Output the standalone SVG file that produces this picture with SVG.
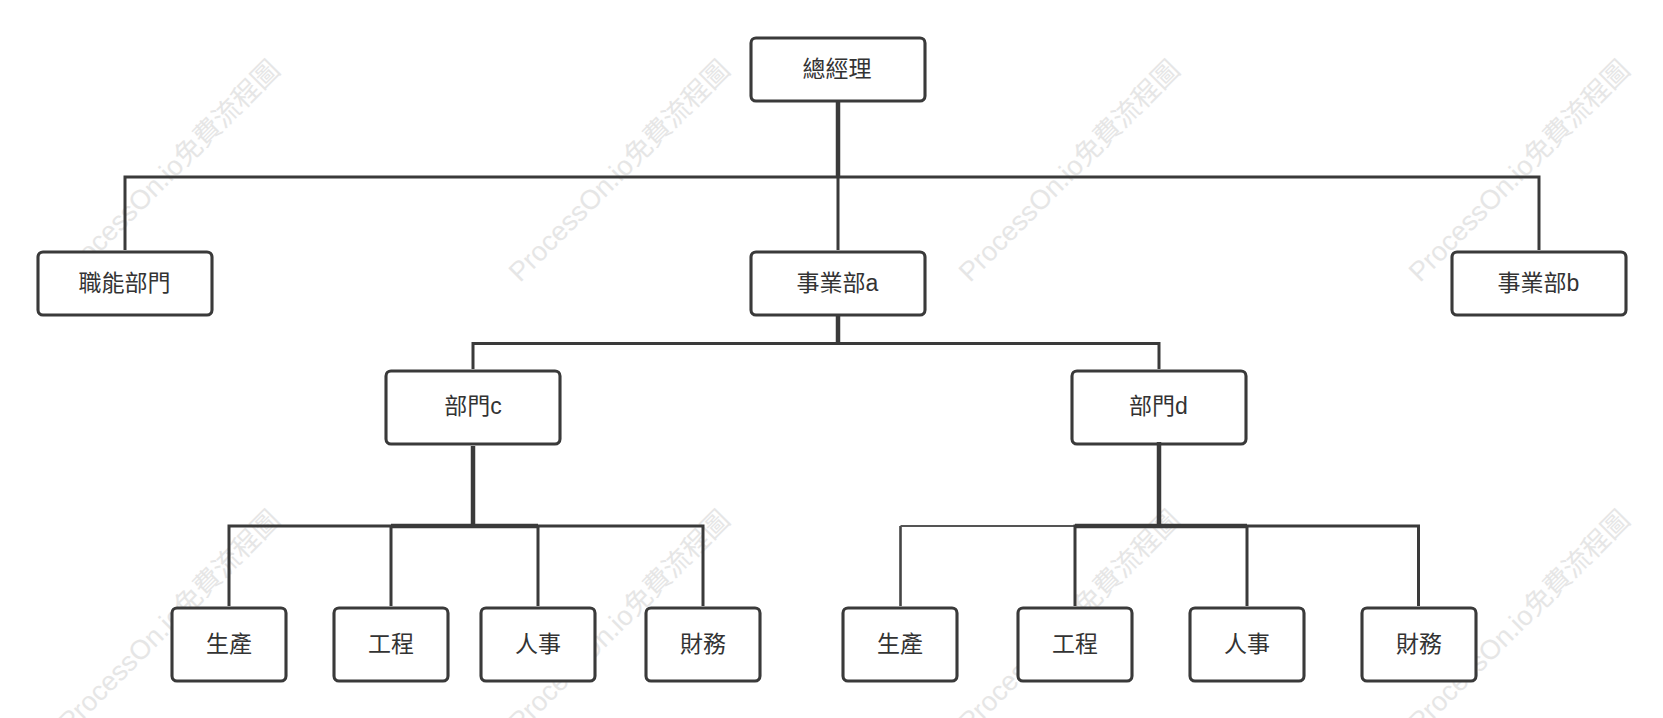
<svg xmlns="http://www.w3.org/2000/svg" width="1663" height="718" viewBox="0 0 1663 718">
<style>
.wm{font-family:"Liberation Sans","Noto Sans CJK TC",sans-serif;font-size:27.2px;fill:#e6e6e6}
.box{fill:#fff;stroke:#3a3a3a;stroke-width:3.1}
.lbl{font-family:"Liberation Sans","Noto Sans CJK TC",sans-serif;font-size:23px;fill:#333;text-anchor:middle}
.c{fill:none;stroke:#3a3a3a;stroke-width:3}
.t{stroke-width:4.5}
.n{stroke-width:2;stroke:#555}
.v{stroke-width:2.6;stroke:#444}
</style>
<rect width="1663" height="718" fill="#fff"/>
<g id="watermarks">
<text class="wm" transform="translate(70 283) rotate(-45)">ProcessOn.io免費流程圖</text>
<text class="wm" transform="translate(520 283) rotate(-45)">ProcessOn.io免費流程圖</text>
<text class="wm" transform="translate(970 283) rotate(-45)">ProcessOn.io免費流程圖</text>
<text class="wm" transform="translate(1420 283) rotate(-45)">ProcessOn.io免費流程圖</text>
<text class="wm" transform="translate(70 733) rotate(-45)">ProcessOn.io免費流程圖</text>
<text class="wm" transform="translate(520 733) rotate(-45)">ProcessOn.io免費流程圖</text>
<text class="wm" transform="translate(970 733) rotate(-45)">ProcessOn.io免費流程圖</text>
<text class="wm" transform="translate(1420 733) rotate(-45)">ProcessOn.io免費流程圖</text>
</g>
<g id="n-gm"><rect class="box" x="751" y="38" width="174" height="63" rx="5"/><text class="lbl" x="837" y="77">總經理</text></g>
<g id="n-func"><rect class="box" x="38" y="252" width="174" height="63" rx="5"/><text class="lbl" x="124.500" y="290.500">職能部門</text></g>
<g id="n-a"><rect class="box" x="751" y="252" width="174" height="63" rx="5"/><text class="lbl" x="837.500" y="290.500">事業部a</text></g>
<g id="n-b"><rect class="box" x="1452" y="252" width="174" height="63" rx="5"/><text class="lbl" x="1538.500" y="290.500">事業部b</text></g>
<g id="n-c"><rect class="box" x="386" y="371" width="174" height="73" rx="5"/><text class="lbl" x="473" y="414">部門c</text></g>
<g id="n-d"><rect class="box" x="1072" y="371" width="174" height="73" rx="5"/><text class="lbl" x="1158.500" y="414">部門d</text></g>
<g id="n-c1"><rect class="box" x="172" y="608" width="114" height="73" rx="5"/><text class="lbl" x="229" y="651.500">生產</text></g>
<g id="n-c2"><rect class="box" x="334" y="608" width="114" height="73" rx="5"/><text class="lbl" x="391" y="651.500">工程</text></g>
<g id="n-c3"><rect class="box" x="481" y="608" width="114" height="73" rx="5"/><text class="lbl" x="538" y="651.500">人事</text></g>
<g id="n-c4"><rect class="box" x="646" y="608" width="114" height="73" rx="5"/><text class="lbl" x="703" y="651.500">財務</text></g>
<g id="n-d1"><rect class="box" x="843" y="608" width="114" height="73" rx="5"/><text class="lbl" x="900" y="651.500">生產</text></g>
<g id="n-d2"><rect class="box" x="1018" y="608" width="114" height="73" rx="5"/><text class="lbl" x="1075" y="651.500">工程</text></g>
<g id="n-d3"><rect class="box" x="1190" y="608" width="114" height="73" rx="5"/><text class="lbl" x="1247" y="651.500">人事</text></g>
<g id="n-d4"><rect class="box" x="1362" y="608" width="114" height="73" rx="5"/><text class="lbl" x="1419" y="651.500">財務</text></g>
<g id="connectors">
<path class="c t" d="M838 102V177"/>
<path class="c" d="M125 250V177H1539V250M838 177V250"/>
<path class="c" d="M473 369V343.500H1159V369M838 316V343.500"/>
<path class="c t" d="M838 316V343"/>
<path class="c t" d="M473 446V526"/>
<path class="c" d="M229 606V526H703V606M391 526V606M538 526V606"/>
<path class="c t" d="M391 526H538"/>
<path class="c t" d="M1159 442V526"/>
<path class="c v" d="M900.500 606V526"/>
<path class="c n" d="M900.500 526H1075"/>
<path class="c" d="M1075 606V526H1418.500V606M1247 526V606"/>
<path class="c t" d="M1075 526H1247"/>
</g>
</svg>
